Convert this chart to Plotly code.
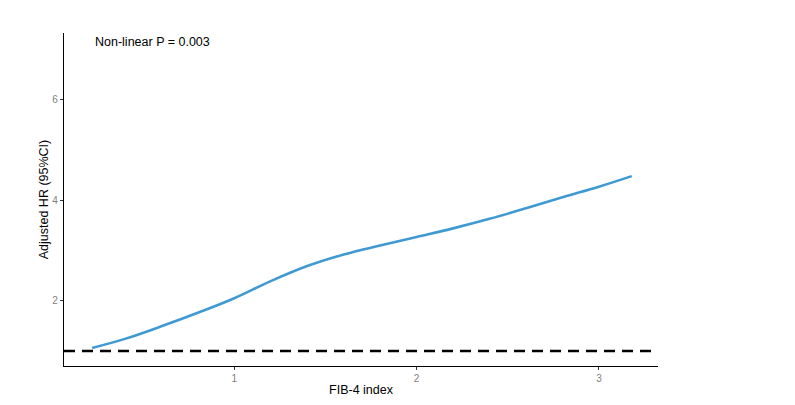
import plotly.graph_objects as go

fib4 = [0.22, 0.40, 0.60, 0.80, 1.00, 1.20, 1.40, 1.60, 1.80, 2.00, 2.20, 2.40, 2.60, 2.80, 3.00, 3.18]
hr = [1.06, 1.24, 1.49, 1.76, 2.05, 2.39, 2.69, 2.92, 3.10, 3.27, 3.44, 3.63, 3.84, 4.06, 4.27, 4.48]
ref_hr = 1.0
x_ticks = [1, 2, 3]
y_ticks = [2, 4, 6]
x_range = [0.066, 3.324]
y_range = [0.70, 7.33]

fig = go.Figure()
fig.add_trace(go.Scatter(x=x_range, y=[ref_hr, ref_hr], mode="lines",
                         line=dict(color="black", width=2.5, dash="11px,7px"),
                         hoverinfo="skip", showlegend=False))
fig.add_trace(go.Scatter(x=fib4, y=hr, mode="lines",
                         line=dict(color="#3f9ad3", width=2.6, shape="spline", smoothing=1.1),
                         showlegend=False))

axis_common = dict(showgrid=False, zeroline=False, showline=True, linecolor="black", linewidth=1.2,
                   ticks="outside", ticklen=3, tickcolor="#333333", automargin=False,
                   tickfont=dict(family="Liberation Sans, Arial", size=10, color="#7f7f7f"))
fig.update_xaxes(range=x_range, tickvals=x_ticks, ticktext=[str(v) for v in x_ticks],
                 title=dict(text="FIB-4 index", font=dict(family="Liberation Sans, Arial", size=12.5, color="black"), standoff=2),
                 **axis_common)
fig.update_yaxes(range=y_range, tickvals=y_ticks, ticktext=[str(v) for v in y_ticks],
                 title=dict(text="Adjusted HR (95%CI)", font=dict(family="Liberation Sans, Arial", size=12.5, color="black"), standoff=0),
                 **axis_common)

fig.add_annotation(x=0.225, y=7.16, xref="x", yref="y", text="Non-linear P = 0.003",
                   showarrow=False, xanchor="left", yanchor="middle",
                   font=dict(family="Liberation Sans, Arial", size=12.5, color="black"))

fig.update_layout(width=787, height=397, margin=dict(l=56, r=137, t=25, b=39),
                  plot_bgcolor="white", paper_bgcolor="white")
fig.write_html("out.html")
